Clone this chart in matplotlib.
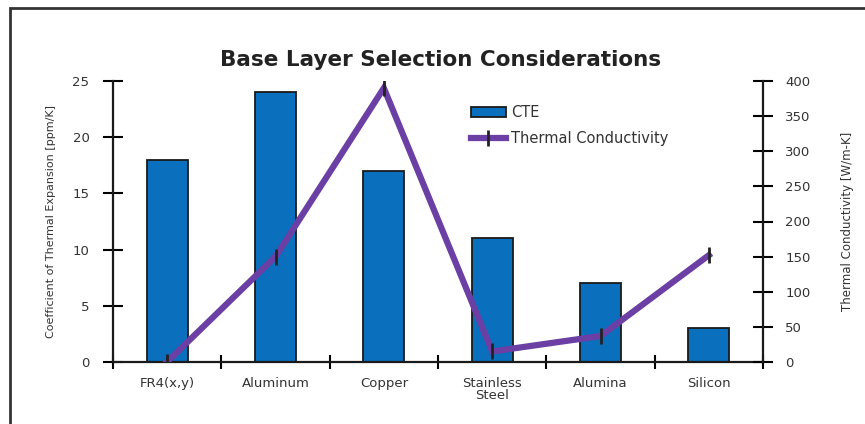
import matplotlib
matplotlib.use("Agg")
import matplotlib.pyplot as plt
from matplotlib.patches import Rectangle
from matplotlib.lines import Line2D
import numpy as np

materials = ["FR4(x,y)", "Aluminum", "Copper", "Stainless\nSteel", "Alumina", "Silicon"]
cte = [18, 24, 17, 11, 7, 3]
conductivity = [0.3, 150, 390, 15, 37, 152]
left_ticks = [0, 5, 10, 15, 20, 25]
right_ticks = [0, 50, 100, 150, 200, 250, 300, 350, 400]

plt.rcParams["font.family"] = ["DejaVu Sans"]

fig = plt.figure(figsize=(8.65, 4.24), dpi=100)
ax = fig.add_axes([113 / 865, 1 - 362 / 424, 650 / 865, 281 / 424])

x = np.arange(len(materials))
bar_color = "#0a6fbd"
line_color = "#6b3fa3"
text_color = "#333333"

ax.bar(x, cte, width=0.38, color=bar_color, edgecolor="#1a1a1a", linewidth=1.3, zorder=2)
ax.set_xlim(-0.5, len(materials) - 0.5)
ax.set_ylim(0, 25)
ax.set_yticks(left_ticks)
ax.set_xticks(x)
ax.set_xticklabels(materials, fontsize=9.5, color=text_color, linespacing=0.85)
ax.set_xticks(np.arange(-0.5, len(materials)), minor=True)
ax.tick_params(axis="x", which="major", length=0, pad=11)
ax.tick_params(axis="x", which="minor", length=10, width=1.5, direction="inout")
ax.tick_params(axis="y", length=14, width=1.5, direction="inout", labelsize=9.5,
               labelcolor=text_color, pad=10)
ax.set_ylabel("Coefficient of Thermal Expansion [ppm/K]", fontsize=8, color=text_color,
              labelpad=12)
for side in ("top", "right"):
    ax.spines[side].set_visible(False)
for side in ("left", "bottom"):
    ax.spines[side].set_linewidth(1.6)
    ax.spines[side].set_color("#1a1a1a")

ax2 = ax.twinx()
ax2.plot(x, conductivity, color=line_color, linewidth=4.5, marker="|", markersize=12,
         markeredgewidth=2, markeredgecolor="#222222", zorder=3, solid_joinstyle="miter")
ax2.set_ylim(0, 400)
ax2.set_yticks(right_ticks)
ax2.tick_params(axis="y", length=14, width=1.5, direction="inout", labelsize=9.5,
                labelcolor=text_color, pad=9)
ax2.set_ylabel("Thermal Conductivity [W/m-K]", fontsize=8.5, color=text_color, labelpad=22)
for side in ("top", "left", "bottom"):
    ax2.spines[side].set_visible(False)
ax2.spines["right"].set_linewidth(1.6)
ax2.spines["right"].set_color("#1a1a1a")

handles = [
    Rectangle((0, 0), 1, 1, facecolor=bar_color, edgecolor="#1a1a1a", linewidth=1.3),
    Line2D([], [], color=line_color, linewidth=4.5, marker="|", markersize=12,
           markeredgewidth=2, markeredgecolor="#222222"),
]
ax2.legend(handles, ["CTE", "Thermal Conductivity"], loc="upper left",
           bbox_to_anchor=(0.53, 0.96), frameon=False, fontsize=10.5,
           handlelength=2.4, handletextpad=0.4, labelspacing=0.75, labelcolor=text_color)

fig.text(441 / 865, 1 - 60 / 424, "Base Layer Selection Considerations",
         ha="center", va="center", fontsize=15.5, fontweight="bold", color="#222222")

fig.add_artist(Rectangle((10 / 865, -0.1), 1.2, 1 - 8 / 424 + 0.1, transform=fig.transFigure,
                         fill=False, edgecolor="#333333", linewidth=2))

fig.savefig("out.png", dpi=100)
